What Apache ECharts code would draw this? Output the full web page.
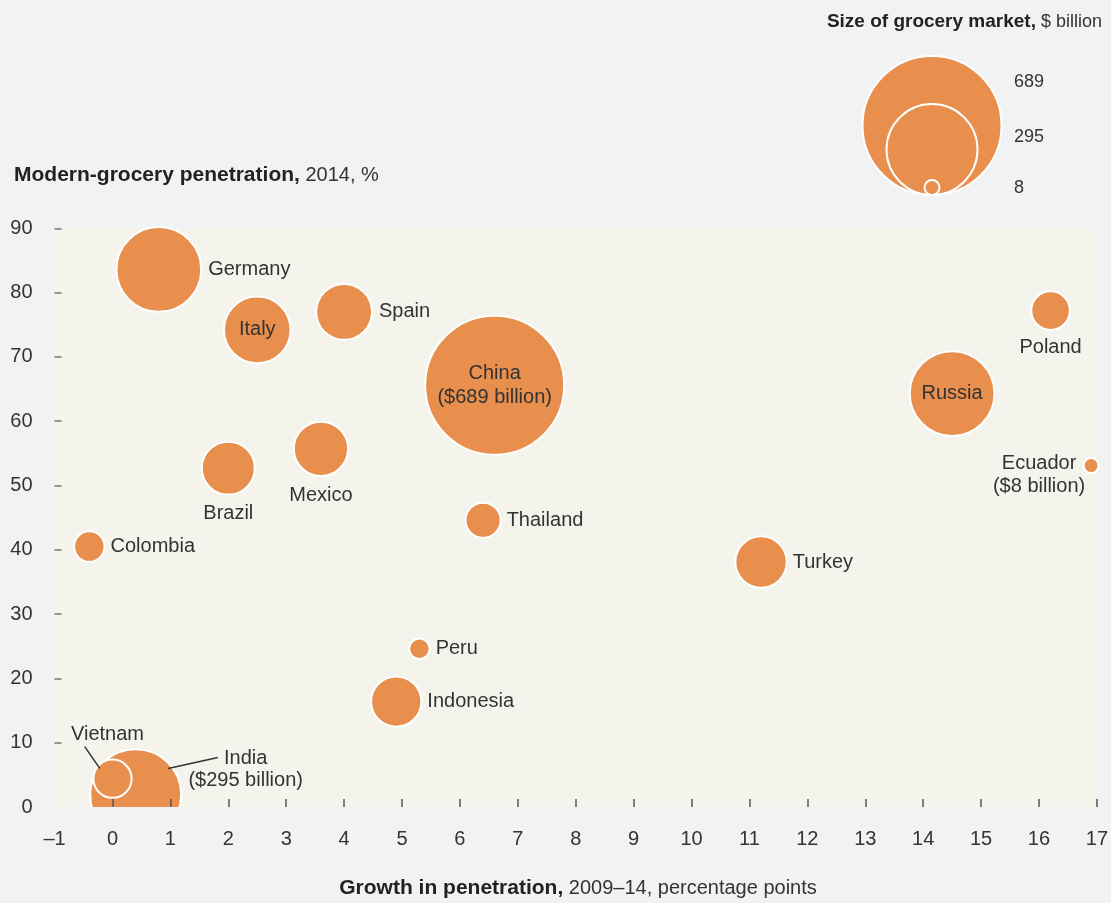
<!DOCTYPE html>
<html>
<head>
<meta charset="utf-8">
<script src="https://cdn.jsdelivr.net/npm/echarts@6/dist/echarts.min.js"></script>
<style>
  html, body { margin: 0; padding: 0; background: #f1f2f4; }
  #main { width: 1111px; height: 903px; }
</style>
</head>
<body>
<div id="main"></div>
<script>
// data
var countries = ['Germany', 'Italy', 'Spain', 'China', 'Russia', 'Poland', 'Ecuador', 'Brazil',
  'Mexico', 'Thailand', 'Colombia', 'Turkey', 'Peru', 'Indonesia', 'India', 'Vietnam'];
var growth = [0.8, 2.5, 4.0, 6.6, 14.5, 16.2, 16.9, 2.0, 3.6, 6.4, -0.4, 11.2, 5.3, 4.9, 0.4, 0.0];
var penetration = [83.6, 74.2, 77.0, 65.6, 64.3, 77.2, 53.1, 52.7, 55.7, 44.6, 40.5, 38.1, 24.6, 16.4, 1.9, 4.4];
var marketSize = [256, 158, 111, 689, 256, 53, 8, 100, 105, 44, 33, 94, 15, 90, 295, 52];
var labelText = ['Germany', 'Italy', 'Spain', 'China\n($689 billion)', 'Russia', 'Poland',
  'Ecuador\n($8 billion)', 'Brazil', 'Mexico', 'Thailand', 'Colombia', 'Turkey', 'Peru',
  'Indonesia', 'India\n($295 billion)', 'Vietnam'];
var legendValues = [689, 295, 8];
var xTicks = { min: -1, max: 17, step: 1 };
var yTicks = { min: 0, max: 90, step: 10 };
var vietnamLeader = [[-0.48, 9.4], [-0.22, 6.0]];
var indiaLeader = [[0.96, 6.0], [1.82, 7.7]];

var ORANGE = '#e98f4d';
var TEXT = '#333333';
var BG = '#f1f2f4';
var FONT = '"Liberation Sans", Arial, Helvetica, sans-serif';
var MAXD = 139; // diameter of the biggest bubble

function bubbleSize(v) {
  return MAXD * Math.sqrt(v / 689);
}

// ticks without the corner one
function tickList(t) {
  var out = [];
  for (var v = t.min + t.step; v <= t.max; v += t.step) out.push(v);
  return out;
}

// where each label sits
var labelPlace = {
  Germany: { position: 'right', distance: 6 },
  Italy: { position: 'inside' },
  Spain: { position: 'right', distance: 6 },
  China: { position: 'inside', lineHeight: 24 },
  Russia: { position: 'inside' },
  Poland: { position: 'bottom', distance: 7 },
  Ecuador: { position: 'inside', offset: [-52, 9], lineHeight: 23 },
  Brazil: { position: 'bottom', distance: 8 },
  Mexico: { position: 'bottom', distance: 9 },
  Thailand: { position: 'right', distance: 5 },
  Colombia: { position: 'right', distance: 5 },
  Turkey: { position: 'right', distance: 5 },
  Peru: { position: 'right', distance: 5 },
  Indonesia: { position: 'right', distance: 5 },
  India: { position: 'inside', offset: [110, -25], lineHeight: 22 },
  Vietnam: { position: 'inside', offset: [-5, -44] }
};

var bubbles = [];
for (var i = 0; i < countries.length; i++) {
  var lp = labelPlace[countries[i]];
  var lbl = {
    show: true,
    formatter: labelText[i],
    position: lp.position,
    color: TEXT,
    fontSize: 20,
    fontFamily: FONT
  };
  if (lp.distance != null) lbl.distance = lp.distance;
  if (lp.offset) lbl.offset = lp.offset;
  if (lp.lineHeight) lbl.lineHeight = lp.lineHeight;
  bubbles.push({
    name: countries[i],
    value: [growth[i], penetration[i], marketSize[i]],
    label: lbl
  });
}

// legend circles, bottom aligned
var legendBottom = 196, legendCx = 932;
var legendLabelY = [82, 137, 188];
var legendGraphics = [];
for (var j = 0; j < legendValues.length; j++) {
  var r = bubbleSize(legendValues[j]) / 2;
  legendGraphics.push({
    type: 'circle',
    shape: { cx: legendCx, cy: legendBottom - r - 1, r: r },
    style: { fill: ORANGE, stroke: '#fff', lineWidth: 2 },
    z: 20
  });
  legendGraphics.push({
    type: 'text',
    x: 1014, y: legendLabelY[j],
    style: { text: String(legendValues[j]), fill: TEXT, fontSize: 18, fontFamily: FONT, verticalAlign: 'middle' },
    z: 20
  });
}

function titleRich(size) {
  return {
    b: { fontWeight: 'bold', fontSize: size + 1, fill: '#222', fontFamily: FONT },
    n: { fontSize: size, fill: TEXT, fontFamily: FONT }
  };
}

var chart = echarts.init(document.getElementById('main'));

var option = {
  backgroundColor: BG,
  animation: false,
  grid: {
    left: 54.6, right: 9.4, top: 228.3, bottom: 96,
    show: true, backgroundColor: '#f4f4ec', borderWidth: 0
  },
  xAxis: {
    type: 'value',
    min: xTicks.min, max: xTicks.max, interval: xTicks.step,
    z: 10,
    axisLine: { show: false, onZero: false },
    splitLine: { show: false },
    axisTick: { inside: true, length: 8, customValues: tickList(xTicks), lineStyle: { color: '#555', width: 1.5 } },
    axisLabel: {
      margin: 22, fontSize: 20, color: TEXT, fontFamily: FONT,
      formatter: function (v) { return v < 0 ? '\u2013' + Math.abs(v) : String(v); }
    }
  },
  yAxis: {
    type: 'value',
    min: yTicks.min, max: yTicks.max, interval: yTicks.step,
    z: 10,
    axisLine: { show: false, onZero: false },
    splitLine: { show: false },
    axisTick: { inside: true, length: 7, customValues: tickList(yTicks), lineStyle: { color: '#777', width: 1.5 } },
    axisLabel: { margin: 22, fontSize: 20, color: TEXT, fontFamily: FONT, padding: [5, 0, 0, 0] }
  },
  graphic: [
    // hide bubble parts that hang below the plot
    {
      type: 'rect',
      shape: { x: 0, y: 807, width: 1111, height: 96 },
      style: { fill: BG },
      z: 5, silent: true
    },
    {
      type: 'text',
      x: 14, y: 175,
      style: {
        text: '{b|Modern-grocery penetration,}{n| 2014, %}',
        verticalAlign: 'middle',
        rich: titleRich(20)
      },
      z: 20
    },
    {
      type: 'text',
      x: 578, y: 888,
      style: {
        text: '{b|Growth in penetration,}{n| 2009\u201314, percentage points}',
        align: 'center', verticalAlign: 'middle',
        rich: titleRich(20)
      },
      z: 20
    },
    {
      type: 'text',
      x: 1102, y: 22,
      style: {
        text: '{b|Size of grocery market,}{n| $ billion}',
        align: 'right', verticalAlign: 'middle',
        rich: titleRich(18)
      },
      z: 20
    }
  ].concat(legendGraphics),
  series: [
    {
      type: 'scatter',
      data: bubbles,
      symbolSize: function (val) { return bubbleSize(val[2]); },
      itemStyle: { color: ORANGE, borderColor: '#fff', borderWidth: 2, opacity: 1 },
      emphasis: { disabled: true },
      z: 2
    },
    {
      type: 'line',
      data: vietnamLeader,
      symbol: 'none',
      lineStyle: { color: TEXT, width: 1.5 },
      silent: true,
      z: 3
    },
    {
      type: 'line',
      data: indiaLeader,
      symbol: 'none',
      lineStyle: { color: TEXT, width: 1.5 },
      silent: true,
      z: 3
    }
  ]
};

chart.setOption(option);
</script>
</body>
</html>
